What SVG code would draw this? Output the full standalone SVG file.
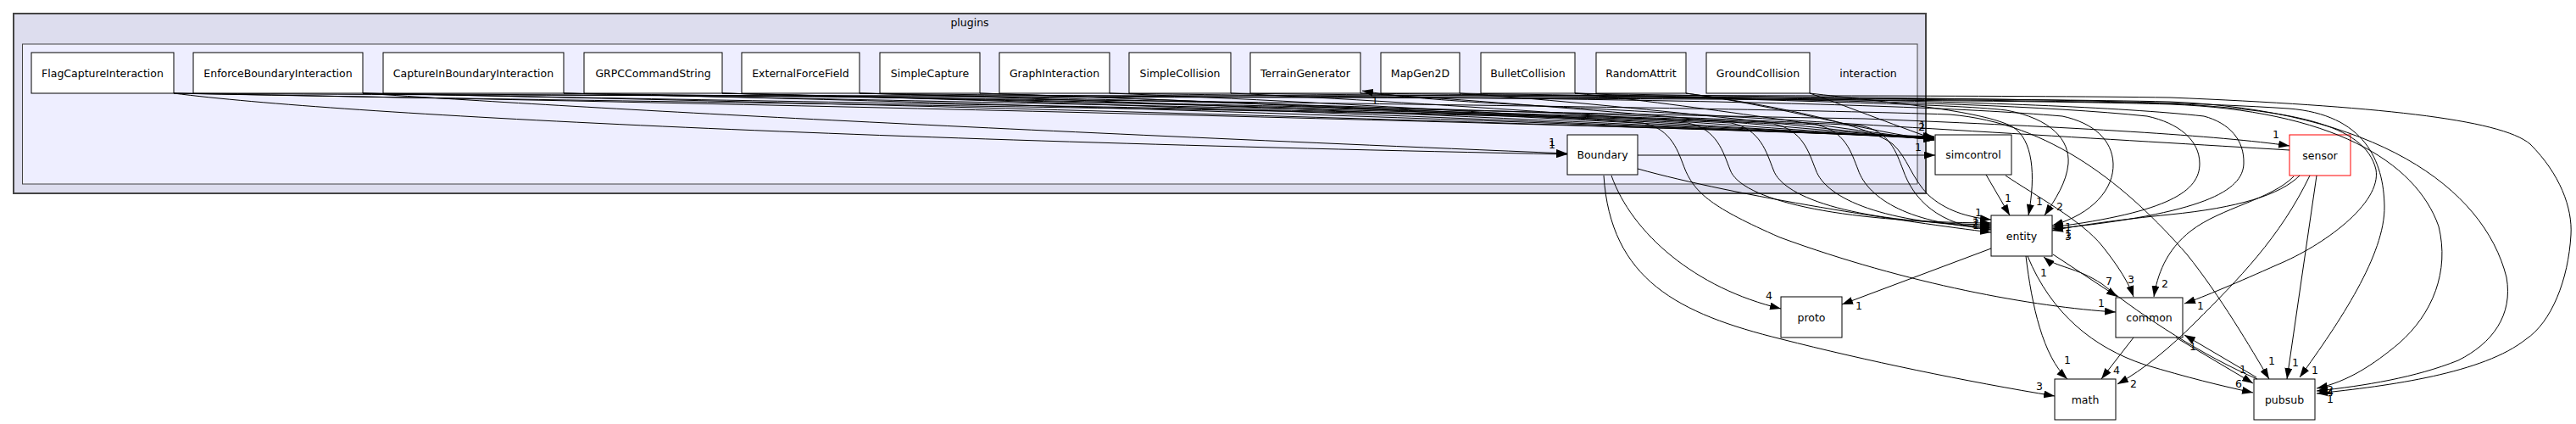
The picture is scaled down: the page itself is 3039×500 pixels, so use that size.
<svg xmlns="http://www.w3.org/2000/svg" width="3039" height="500" viewBox="0 0 3039 500">
<defs>
<marker id="a" markerUnits="userSpaceOnUse" markerWidth="13" markerHeight="9" refX="13" refY="4.5" orient="auto"><path d="M0,0 L13,4.5 L0,9 z" fill="#000"/></marker>
<style>
text{font-family:"DejaVu Sans","Liberation Sans",sans-serif;font-size:12.5px;fill:#000}
.n rect{fill:#fff;stroke:#000;stroke-width:1}
.n text{text-anchor:middle}
.e path{fill:none;stroke:#000;stroke-width:1;marker-end:url(#a)}
.l text{text-anchor:middle}
</style>
</defs>
<rect width="3039" height="500" fill="#fff"/>
<g id="cluster_plugins">
<rect x="16" y="16" width="2256" height="212" fill="#ddddee" stroke="#444" stroke-width="2"/>
<text x="1144" y="31" text-anchor="middle">plugins</text>
</g>
<g id="cluster_interaction">
<rect x="26.5" y="52" width="2235.5" height="165" fill="#eeeeff" stroke="#444" stroke-width="1"/>
<text x="2204" y="90.5" text-anchor="middle">interaction</text>
</g>
<g id="FlagCaptureInteraction" class="n"><rect x="37" y="62" width="168" height="48"/><text x="121" y="90.5">FlagCaptureInteraction</text></g>
<g id="EnforceBoundaryInteraction" class="n"><rect x="228" y="62" width="200" height="48"/><text x="328" y="90.5">EnforceBoundaryInteraction</text></g>
<g id="CaptureInBoundaryInteraction" class="n"><rect x="452" y="62" width="213" height="48"/><text x="558.5" y="90.5">CaptureInBoundaryInteraction</text></g>
<g id="GRPCCommandString" class="n"><rect x="689" y="62" width="163" height="48"/><text x="770.5" y="90.5">GRPCCommandString</text></g>
<g id="ExternalForceField" class="n"><rect x="875" y="62" width="139" height="48"/><text x="944.5" y="90.5">ExternalForceField</text></g>
<g id="SimpleCapture" class="n"><rect x="1038" y="62" width="118" height="48"/><text x="1097" y="90.5">SimpleCapture</text></g>
<g id="GraphInteraction" class="n"><rect x="1179" y="62" width="130" height="48"/><text x="1244" y="90.5">GraphInteraction</text></g>
<g id="SimpleCollision" class="n"><rect x="1332" y="62" width="120" height="48"/><text x="1392" y="90.5">SimpleCollision</text></g>
<g id="TerrainGenerator" class="n"><rect x="1475" y="62" width="130" height="48"/><text x="1540" y="90.5">TerrainGenerator</text></g>
<g id="MapGen2D" class="n"><rect x="1629" y="62" width="93" height="48"/><text x="1675.5" y="90.5">MapGen2D</text></g>
<g id="BulletCollision" class="n"><rect x="1747" y="62" width="111" height="48"/><text x="1802.5" y="90.5">BulletCollision</text></g>
<g id="RandomAttrit" class="n"><rect x="1883" y="62" width="106" height="48"/><text x="1936" y="90.5">RandomAttrit</text></g>
<g id="GroundCollision" class="n"><rect x="2013" y="62" width="122" height="48"/><text x="2074" y="90.5">GroundCollision</text></g>
<g id="Boundary" class="n"><rect x="1849" y="159" width="83" height="47"/><text x="1890.5" y="187">Boundary</text></g>
<g id="simcontrol" class="n"><rect x="2283" y="159" width="90" height="47"/><text x="2328" y="187">simcontrol</text></g>
<g id="sensor" class="n"><rect x="2701" y="159" width="72" height="48" style="stroke:#ff0000"/><text x="2737" y="187.5">sensor</text></g>
<g id="entity" class="n"><rect x="2349" y="254" width="72" height="48"/><text x="2385" y="282.5">entity</text></g>
<g id="common" class="n"><rect x="2496" y="351" width="79" height="47"/><text x="2535.5" y="379">common</text></g>
<g id="proto" class="n"><rect x="2101" y="350" width="72" height="48"/><text x="2137" y="378.5">proto</text></g>
<g id="math" class="n"><rect x="2424" y="447" width="72" height="48"/><text x="2460" y="475.5">math</text></g>
<g id="pubsub" class="n"><rect x="2659" y="447" width="72" height="48"/><text x="2695" y="475.5">pubsub</text></g>
<g id="connectors" class="e">
<path d="M205,110 C900,122 1700,142 2282,161"/>
<path d="M428,110 C1000,121 1750,143 2282,162"/>
<path d="M665,110 C1200,121 1800,144 2282,162"/>
<path d="M852,110 C1300,120 1850,145 2282,163"/>
<path d="M1014,110 C1400,120 1900,146 2282,163"/>
<path d="M1156,110 C1500,120 1950,147 2282,163"/>
<path d="M1309,110 C1600,121 2000,148 2282,164"/>
<path d="M1452,110 C1700,121 2050,149 2282,164"/>
<path d="M1605,110 C1800,121 2100,150 2282,164"/>
<path d="M1722,110 C1900,122 2150,152 2282,165"/>
<path d="M1858,110 C2000,124 2180,154 2282,165"/>
<path d="M1989,110 C2100,125 2200,155 2282,165"/>
<path d="M2135,110 C2170,122 2233,147 2282,164"/>
<path d="M205,110 C400,135 1000,165 1849,182"/>
<path d="M428,110 C700,128 1100,150 1849,181"/>
<path d="M1932,183 L2283,183"/>
<path d="M1932,199 C2050,232 2250,262 2349,274"/>
<path d="M1901,207 C1925,275 2000,340 2101,364"/>
<path d="M1892,207 C1900,330 1980,370 2102,400 C2200,425 2320,450 2424,467"/>
<path d="M205,110 C800,122 1750,130 1991,145 C2026,152 2033,180 2041,200 C2053,235 2164,262 2349,263"/>
<path d="M428,110 C1000,122 1800,132 2042,145 C2077,152 2084,180 2092,200 C2104,235 2195,263 2349,265"/>
<path d="M665,110 C1200,122 1850,133 2092,146 C2127,153 2134,180 2142,200 C2154,235 2225,264 2349,267"/>
<path d="M852,110 C1300,122 1900,134 2142,147 C2177,154 2184,180 2192,200 C2204,235 2255,265 2349,269"/>
<path d="M1014,110 C1500,122 1950,135 2195,148 C2230,155 2237,180 2245,200 C2257,235 2287,266 2349,271"/>
<path d="M1156,110 C1500,122 1750,132 1938,145 C1973,152 1980,180 1988,200 C2000,228 2020,245 2100,280 C2250,335 2400,362 2496,368"/>
<path d="M1989,110 C2100,125 2205,148 2233,170 C2250,185 2255,210 2275,230 C2295,248 2320,256 2349,259"/>
<path d="M2135,110 C2220,120 2340,130 2375,150 C2398,165 2402,205 2393,254"/>
<path d="M1858,110 C2100,120 2300,122 2367,130 C2420,140 2442,165 2440,193 C2438,215 2425,235 2412,254"/>
<path d="M1309,110 C1700,116 2200,117 2433,137 C2470,145 2492,165 2493,193 C2494,222 2470,252 2421,266"/>
<path d="M1452,110 C1800,115 2300,113 2533,137 C2570,145 2595,165 2595,193 C2595,225 2560,250 2421,268"/>
<path d="M1605,110 C1900,114 2400,115 2600,137 C2630,145 2648,165 2647,193 C2646,225 2600,252 2421,270"/>
<path d="M2713,207 C2690,230 2640,245 2560,253 C2500,259 2450,266 2421,272"/>
<path d="M852,110 C1300,120 1900,135 2200,140 C2450,150 2620,160 2701,172"/>
<path d="M2701,177 C2500,165 2200,147 2000,135 C1800,123 1680,120 1607,107"/>
<path d="M1722,110 C2000,115 2400,118 2560,122 C2700,130 2790,145 2803,200 C2810,240 2740,290 2687,312 C2640,333 2600,350 2577,358"/>
<path d="M665,110 C1200,118 2000,125 2300,135 C2420,145 2510,220 2580,300 C2620,350 2655,410 2677,447"/>
<path d="M1858,110 C2200,117 2500,115 2700,128 C2790,135 2812,190 2813,243 C2814,300 2760,380 2713,445"/>
<path d="M1014,110 C1600,118 2300,115 2560,123 C2750,130 2850,190 2877,267 C2890,320 2870,370 2830,405 C2800,430 2770,450 2733,458"/>
<path d="M428,110 C1200,118 2200,112 2560,120 C2800,130 2930,220 2957,327 C2965,372 2940,405 2900,425 C2850,445 2790,455 2733,461"/>
<path d="M205,110 C1000,116 2200,110 2560,115 C2800,125 2950,140 2985,170 C3020,205 3035,245 3033,277 C3030,330 3010,380 2980,400 C2930,440 2820,455 2733,464"/>
<path d="M2706,208 C2680,235 2620,245 2585,272 C2555,295 2545,325 2541,350"/>
<path d="M2725,207 C2690,280 2640,330 2590,380 C2560,410 2530,435 2498,453"/>
<path d="M2733,207 L2698,447"/>
<path d="M2343,206 L2371,254"/>
<path d="M2366,207 C2400,230 2456,260 2480,290 C2500,315 2512,335 2517,350"/>
<path d="M2422,300 L2498,350"/>
<path d="M2349,293 L2173,359"/>
<path d="M2390,302 C2397,360 2410,420 2439,447"/>
<path d="M2392,302 C2420,370 2470,410 2530,430 C2580,445 2620,455 2658,463"/>
<path d="M2663,447 C2600,420 2530,375 2480,335 C2450,315 2425,315 2411,303"/>
<path d="M2517,398 L2479,447"/>
<path d="M2567,398 L2658,452"/>
<path d="M2662,445 L2577,395"/>
</g>
<g id="labels" class="l">
<text x="1831" y="172">1</text><text x="1831" y="175">1</text>
<text x="2267" y="154">2</text><text x="2268" y="152">1</text>
<text x="2263" y="178">1</text>
<text x="1622" y="123">1</text>
<text x="2369" y="238">1</text><text x="2406" y="242">1</text><text x="2430" y="248">2</text>
<text x="2334" y="255">1</text><text x="2331" y="265">1</text><text x="2331" y="267">2</text><text x="2331" y="270">1</text>
<text x="2440" y="272">1</text><text x="2440" y="281">1</text><text x="2440" y="283">3</text>
<text x="2685" y="163">1</text>
<text x="2488" y="336">7</text><text x="2514" y="334">3</text><text x="2554" y="339">2</text>
<text x="2479" y="362">1</text><text x="2596" y="365">1</text>
<text x="2087" y="353">4</text><text x="2193" y="365">1</text>
<text x="2439" y="429">1</text><text x="2497" y="441">4</text><text x="2406" y="460">3</text><text x="2517" y="457">2</text>
<text x="2680" y="430">1</text><text x="2708" y="432">1</text><text x="2731" y="441">1</text>
<text x="2646" y="440">1</text><text x="2641" y="457">6</text>
<text x="2749" y="464">2</text><text x="2749" y="467">4</text><text x="2749" y="475">1</text>
<text x="2587" y="413">1</text>
<text x="2411" y="326">1</text>
</g>
</svg>
